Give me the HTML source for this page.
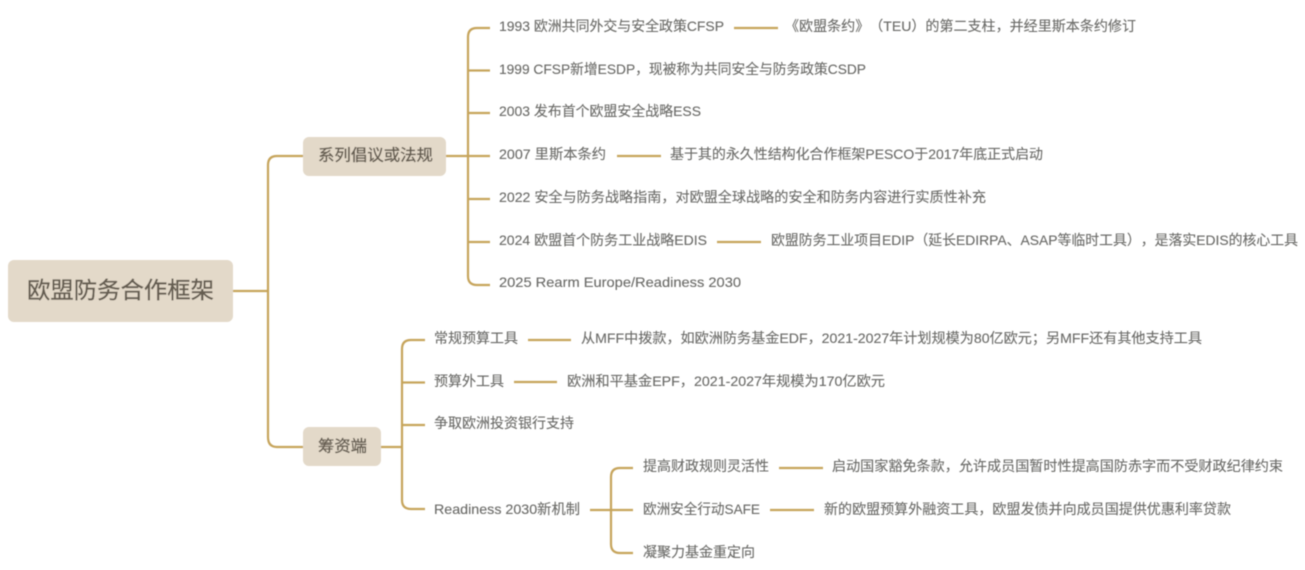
<!DOCTYPE html>
<html><head><meta charset="utf-8">
<style>
html,body{margin:0;padding:0;background:#fff;width:1305px;height:570px;overflow:hidden}
svg{display:block}
text{font-family:"Liberation Sans","Noto Sans CJK SC",sans-serif;fill:#6a6a67;font-size:14px;dominant-baseline:central;text-spacing-trim:space-all;stroke:#6a6a67;stroke-width:.12}
.h{fill:#655d51;stroke:#655d51;stroke-width:.35}
path{fill:none;stroke:#c6a45c;stroke-width:2.2}
</style></head><body>
<svg width="1305" height="570" viewBox="0 0 1305 570" xmlns="http://www.w3.org/2000/svg">
<defs><filter id="b" x="-5%" y="-5%" width="110%" height="110%"><feGaussianBlur stdDeviation="0.45"/></filter></defs>
<g filter="url(#b)">
<rect x="8" y="260" width="225" height="62" rx="6" fill="#e3d9c9"/>
<rect x="303" y="137" width="143" height="39" rx="6" fill="#e3d9c9"/>
<rect x="303" y="427" width="78" height="39" rx="6" fill="#e3d9c9"/>

<path d="M233 291H268M303 156H277Q268 156 268 165V437Q268 447 277 447H303"/>
<path d="M446 156H490M490 28H477Q468 28 468 37V276Q468 285 477 285H490M468 70.5H490M468 113H490M468 199H490M468 242H490"/>
<path d="M734 28H778M617 156H661M717 242H761"/>
<path d="M381 447H402M425 340H411Q402 340 402 349V500Q402 509 411 509H425M402 382.500H425M402 425H425"/>
<path d="M528 340H571M514 382H557"/>
<path d="M590 510H633M633 468H620Q611 468 611 477V544Q611 553 620 553H633"/>
<path d="M779 468H823M770 510H814"/>

<text class="h" x="27" y="290" style="font-size:23px" textLength="187" lengthAdjust="spacingAndGlyphs">欧盟防务合作框架</text>
<text class="h" x="318" y="156" style="font-size:16px" textLength="115" lengthAdjust="spacingAndGlyphs">系列倡议或法规</text>
<text class="h" x="318" y="447" style="font-size:16px" textLength="49" lengthAdjust="spacingAndGlyphs">筹资端</text>

<text x="499" y="26" textLength="225" lengthAdjust="spacingAndGlyphs">1993 欧洲共同外交与安全政策CFSP</text>
<text x="785" y="26" textLength="351" lengthAdjust="spacingAndGlyphs">《欧盟条约》（TEU）的第二支柱，并经里斯本条约修订</text>
<text x="499" y="69" textLength="367" lengthAdjust="spacingAndGlyphs">1999 CFSP新增ESDP，现被称为共同安全与防务政策CSDP</text>
<text x="499" y="111" textLength="202" lengthAdjust="spacingAndGlyphs">2003 发布首个欧盟安全战略ESS</text>
<text x="499" y="154" textLength="107" lengthAdjust="spacingAndGlyphs">2007 里斯本条约</text>
<text x="670" y="154" textLength="373" lengthAdjust="spacingAndGlyphs">基于其的永久性结构化合作框架PESCO于2017年底正式启动</text>
<text x="499" y="197" textLength="487" lengthAdjust="spacingAndGlyphs">2022 安全与防务战略指南，对欧盟全球战略的安全和防务内容进行实质性补充</text>
<text x="499" y="240" textLength="208" lengthAdjust="spacingAndGlyphs">2024 欧盟首个防务工业战略EDIS</text>
<text x="771" y="240" textLength="527" lengthAdjust="spacingAndGlyphs">欧盟防务工业项目EDIP（延长EDIRPA、ASAP等临时工具），是落实EDIS的核心工具</text>
<text x="499" y="282" textLength="242" lengthAdjust="spacingAndGlyphs">2025 Rearm Europe/Readiness 2030</text>

<text x="434" y="338" textLength="84" lengthAdjust="spacingAndGlyphs">常规预算工具</text>
<text x="581" y="338" textLength="621" lengthAdjust="spacingAndGlyphs">从MFF中拨款，如欧洲防务基金EDF，2021-2027年计划规模为80亿欧元；另MFF还有其他支持工具</text>
<text x="434" y="381" textLength="70" lengthAdjust="spacingAndGlyphs">预算外工具</text>
<text x="567" y="381" textLength="318" lengthAdjust="spacingAndGlyphs">欧洲和平基金EPF，2021-2027年规模为170亿欧元</text>
<text x="434" y="423" textLength="140" lengthAdjust="spacingAndGlyphs">争取欧洲投资银行支持</text>
<text x="434" y="509" textLength="146" lengthAdjust="spacingAndGlyphs">Readiness 2030新机制</text>
<text x="643" y="466" textLength="126" lengthAdjust="spacingAndGlyphs">提高财政规则灵活性</text>
<text x="832" y="466" textLength="451" lengthAdjust="spacingAndGlyphs">启动国家豁免条款，允许成员国暂时性提高国防赤字而不受财政纪律约束</text>
<text x="643" y="509" textLength="117" lengthAdjust="spacingAndGlyphs">欧洲安全行动SAFE</text>
<text x="824" y="509" textLength="407" lengthAdjust="spacingAndGlyphs">新的欧盟预算外融资工具，欧盟发债并向成员国提供优惠利率贷款</text>
<text x="643" y="552" textLength="112" lengthAdjust="spacingAndGlyphs">凝聚力基金重定向</text>
</g>
</svg>
</body></html>
